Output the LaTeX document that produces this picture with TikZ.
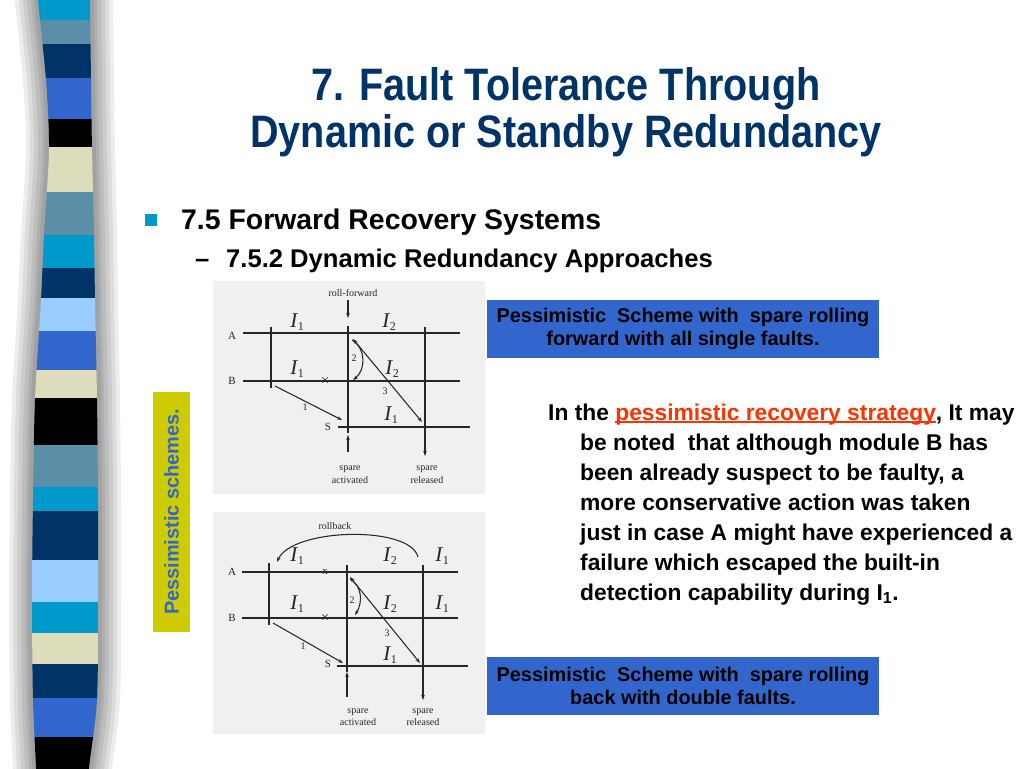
\documentclass[tikz,border=0pt]{standalone}
\usepackage[no-math]{fontspec}
\setmainfont{Liberation Sans}
\newfontfamily\titlefont[FakeStretch=0.87]{Liberation Sans}
\newfontfamily\scanfont{Liberation Serif}
\usetikzlibrary{arrows.meta}
\definecolor{titleblue}{HTML}{003366}
\definecolor{boxblue}{HTML}{3366CC}
\definecolor{bulletcyan}{HTML}{0099CC}
\definecolor{linkred}{HTML}{FF3300}
\definecolor{sideyellow}{HTML}{CCCC00}
\definecolor{scanbg}{HTML}{F0F0F0}
\definecolor{scangray}{HTML}{262626}
\definecolor{stcyan}{HTML}{0099CC}
\definecolor{ststeel}{HTML}{5B8FA8}
\definecolor{stnavy}{HTML}{003366}
\definecolor{stblue}{HTML}{3366CC}
\definecolor{stbeige}{HTML}{DDDDBB}
\definecolor{stlight}{HTML}{99CCFF}
\newcommand\fsz[1]{\fontsize{#1}{#1}\selectfont}
\newcommand\myul[1]{\setbox0\hbox{{#1}}\rlap{{\color{linkred}\rule[-2.6pt]{\wd0}{1.4pt}}}\box0}
\newcommand\Iv[1]{{\scanfont\itshape I}\kern0.5pt\raisebox{-3.5pt}{\scanfont\fsz{12}#1}}
\tikzset{
  scanline/.style={draw=scangray, line width=1.05pt},
  scanarrow/.style={scanline, -{Stealth[length=5pt,width=3.5pt]}},
  scanboth/.style={scanline, {Stealth[length=5pt,width=3.5pt]}-{Stealth[length=5pt,width=3.5pt]}},
  scantext/.style={font=\scanfont\fsz{10}, text=scangray, inner sep=0pt},
  scanlabel/.style={font=\scanfont\fsz{11}, text=scangray, inner sep=0pt},
  ivar/.style={font=\scanfont\fsz{21}, text=scangray, inner sep=0pt},
  para/.style={anchor=base west, font=\bfseries\fsz{22.8}, inner sep=0pt},
  capbox/.style={fill=boxblue, minimum width=392pt, minimum height=58pt, align=center,
    font=\bfseries\fontsize{19.9}{23}\selectfont, inner sep=0pt},
  titleline/.style={anchor=base, font=\titlefont\bfseries\fsz{45.5}, text=titleblue, inner sep=0pt},
  stripe/.style={fill=#1, draw=none}
}
\def\barpath{plot[smooth] coordinates {(38,-20) (38,0) (46,80) (49,150) (44,235) (41,300) (35,400) (33,500) (32,600) (33,700) (36,768) (36,790)} -- plot[smooth] coordinates {(89,790) (89,768) (97,700) (98,600) (98,500) (97,400) (95,300) (94,235) (92,150) (91,80) (90,0) (90,-20)} -- cycle}
\begin{document}
\begin{tikzpicture}[x=1pt,y=-1pt]
\useasboundingbox (0,0) rectangle (1024,768);
\fill[white] (0,0) rectangle (1024,768);

% ---- striped bar with shadow ----
\foreach \w in {46,38,30,22,14,8}{
  \draw[line width=\w pt, black, opacity=0.07] \barpath;
}
\begin{scope}
  \clip \barpath;
  \fill[stripe=stcyan]  (0,-20) rectangle (130,20);
  \fill[stripe=ststeel] (0,20)  rectangle (130,44);
  \fill[stripe=stnavy]  (0,44)  rectangle (130,78);
  \fill[stripe=stblue]  (0,78)  rectangle (130,119);
  \fill[stripe=black]   (0,119) rectangle (130,147);
  \fill[stripe=stbeige] (0,147) rectangle (130,192);
  \fill[stripe=ststeel] (0,192) rectangle (130,235);
  \fill[stripe=stcyan]  (0,235) rectangle (130,268);
  \fill[stripe=stnavy]  (0,268) rectangle (130,298);
  \fill[stripe=stlight] (0,298) rectangle (130,331);
  \fill[stripe=stblue]  (0,331) rectangle (130,370);
  \fill[stripe=stbeige] (0,370) rectangle (130,398);
  \fill[stripe=black]   (0,398) rectangle (130,445);
  \fill[stripe=ststeel] (0,445) rectangle (130,487);
  \fill[stripe=stcyan]  (0,487) rectangle (130,511);
  \fill[stripe=stnavy]  (0,511) rectangle (130,560);
  \fill[stripe=stlight] (0,560) rectangle (130,602);
  \fill[stripe=stcyan]  (0,602) rectangle (130,633);
  \fill[stripe=stbeige] (0,633) rectangle (130,664);
  \fill[stripe=stnavy]  (0,664) rectangle (130,698);
  \fill[stripe=stblue]  (0,698) rectangle (130,737);
  \fill[stripe=black]   (0,737) rectangle (130,790);
\end{scope}

% ---- title ----
\node[titleline] (title1) at (566,100) {7. Fault Tolerance Through};
\node[titleline] (title2) at (566,147) {Dynamic or Standby Redundancy};

% ---- bullets ----
\fill[bulletcyan] (145,214) rectangle (157,226);
\node[anchor=base west, font=\bfseries\fsz{28.4}, inner sep=0pt] (b1) at (181,229) {7.5 Forward Recovery Systems};
\node[anchor=base west, font=\bfseries\fsz{25.6}, inner sep=0pt] (b2dash) at (195,267) {–};
\node[anchor=base west, font=\bfseries\fsz{25.6}, inner sep=0pt] (b2) at (226,267) {7.5.2 Dynamic Redundancy Approaches};

% ---- side label ----
\node[fill=sideyellow, minimum width=37pt, minimum height=240pt, inner sep=0pt] (side) at (171.5,512) {};
\node[rotate=90, font=\bfseries\fsz{19.9}, text=boxblue, inner sep=0pt] (sidetext) at (side.center) {Pessimistic schemes.};

% ---- top scanned figure ----
\fill[scanbg] (213,281) rectangle (485,494);
\coordinate (tA0) at (243,333); \coordinate (tA1) at (460,333);
\coordinate (tB0) at (243,381); \coordinate (tB1) at (460,381);
\coordinate (tS0) at (338,427); \coordinate (tS1) at (470,427);
\node[scantext] (trf) at (353,293) {roll-forward};
\coordinate (trfa) at (348,300); \coordinate (trfb) at (348,318);
\draw[scanarrow] (trfa) -- (trfb);
\draw[scanline] (tA0) -- (tA1);
\draw[scanline] (tB0) -- (tB1);
\draw[scanline] (tS0) -- (tS1);
\node[scanlabel] (tlA) at (232,336) {A};
\node[scanlabel] (tlB) at (232,381) {B};
\node[scanlabel] (tlS) at (328,427) {S};
\coordinate (tL0) at (271,327); \coordinate (tL1) at (271,388);
\coordinate (tM0) at (348,326); \coordinate (tM1) at (348,433);
\coordinate (tR0) at (425,327); \coordinate (tR1) at (425,456);
\draw[scanline] (tL0) -- (tL1);
\draw[scanline] (tM0) -- (tM1);
\draw[scanarrow] (tR0) -- (tR1);
\coordinate (tsa0) at (348,452); \coordinate (tsa1) at (348,435);
\draw[scanarrow] (tsa0) -- (tsa1);
\node[ivar] (ti1) at (297,322) {\Iv{1}};
\node[ivar] (ti2) at (389,322) {\Iv{2}};
\node[ivar] (ti3) at (297,369) {\Iv{1}};
\node[ivar] (ti4) at (392,369) {\Iv{2}};
\node[ivar] (ti5) at (391,415) {\Iv{1}};
\node[scantext, font=\scanfont\fsz{15}] (tx) at (325,381) {×};
\coordinate (t1a) at (275,386); \coordinate (t1b) at (342,420);
\draw[scanarrow] (t1a) -- (t1b);
\node[scantext] (tn1) at (305,407) {1};
\coordinate (t2a) at (352,340); \coordinate (t2b) at (353,380);
\draw[scanarrow] (t2a) .. controls (366,348) and (366,370) .. (t2b);
\node[scantext] (tn2) at (354,358) {2};
\coordinate (t3a) at (353,339); \coordinate (t3b) at (422,422);
\draw[scanboth] (t3a) -- (t3b);
\node[scantext] (tn3) at (385,391) {3};
\node[scantext, align=center, font=\scanfont\fontsize{10}{13}\selectfont] (tact) at (350,475) {spare\\activated};
\node[scantext, align=center, font=\scanfont\fontsize{10}{13}\selectfont] (trel) at (427,475) {spare\\released};

% ---- bottom scanned figure ----
\fill[scanbg] (213,512) rectangle (485,734);
\node[scantext] (brb) at (335,526) {rollback};
\coordinate (brba) at (418,557); \coordinate (brbb) at (277,562);
\draw[scanarrow] (brba) .. controls (410,525) and (292,528) .. (brbb);
\coordinate (bA0) at (242,572); \coordinate (bA1) at (458,572);
\coordinate (bB0) at (242,618); \coordinate (bB1) at (458,618);
\coordinate (bS0) at (337,666); \coordinate (bS1) at (468,666);
\draw[scanline] (bA0) -- (bA1);
\draw[scanline] (bB0) -- (bB1);
\draw[scanline] (bS0) -- (bS1);
\node[scanlabel] (blA) at (232,572) {A};
\node[scanlabel] (blB) at (232,618) {B};
\node[scanlabel] (blS) at (328,664) {S};
\coordinate (bL0) at (269,563); \coordinate (bL1) at (269,625);
\coordinate (bM0) at (347,565); \coordinate (bM1) at (347,672);
\coordinate (bR0) at (423,565); \coordinate (bR1) at (423,700);
\draw[scanline] (bL0) -- (bL1);
\draw[scanline] (bM0) -- (bM1);
\draw[scanarrow] (bR0) -- (bR1);
\coordinate (bsa0) at (347,697); \coordinate (bsa1) at (347,672);
\draw[scanarrow] (bsa0) -- (bsa1);
\node[ivar] (bi1) at (297,556) {\Iv{1}};
\node[ivar] (bi2) at (390,556) {\Iv{2}};
\node[ivar] (bi3) at (442,556) {\Iv{1}};
\node[ivar] (bi4) at (297,604) {\Iv{1}};
\node[ivar] (bi5) at (390,604) {\Iv{2}};
\node[ivar] (bi6) at (442,604) {\Iv{1}};
\node[ivar] (bi7) at (390,655) {\Iv{1}};
\node[scantext, font=\scanfont\fsz{11}] (bxa) at (325,572) {x};
\node[scantext, font=\scanfont\fsz{15}] (bxb) at (325,618) {×};
\coordinate (b1a) at (273,623); \coordinate (b1b) at (343,663);
\draw[scanarrow] (b1a) -- (b1b);
\node[scantext] (bn1) at (303,646) {1};
\coordinate (b2a) at (350,579); \coordinate (b2b) at (355,615);
\draw[scanarrow] (b2a) .. controls (362,586) and (363,602) .. (b2b);
\node[scantext] (bn2) at (352,600) {2};
\coordinate (b3a) at (350,577); \coordinate (b3b) at (420,663);
\draw[scanboth] (b3a) -- (b3b);
\node[scantext] (bn3) at (387,633) {3};
\node[scantext, align=center, font=\scanfont\fontsize{10}{12}\selectfont] (bact) at (358,717) {spare\\activated};
\node[scantext, align=center, font=\scanfont\fontsize{10}{12}\selectfont] (brel) at (423,717) {spare\\released};

% ---- caption boxes ----
\node[capbox] (cap1) at (683,329) {Pessimistic\ \ Scheme with\ \ spare rolling\\forward with all single faults.};
\node[capbox] (cap2) at (683,686) {Pessimistic\ \ Scheme with\ \ spare rolling\\back with double faults.};

% ---- paragraph ----
\node[para] (p1) at (548,420) {In the \myul{\color{linkred}pessimistic recovery strategy}, It may};
\node[para] (p2) at (580,450) {be noted\ \ that although module B has};
\node[para] (p3) at (580,480) {been already suspect to be faulty, a};
\node[para] (p4) at (580,510) {more conservative action was taken};
\node[para] (p5) at (580,540) {just in case A might have experienced a};
\node[para] (p6) at (580,570) {failure which escaped the built-in};
\node[para] (p7) at (580,600) {detection capability during I\textsubscript{1}.};
\end{tikzpicture}
\end{document}
